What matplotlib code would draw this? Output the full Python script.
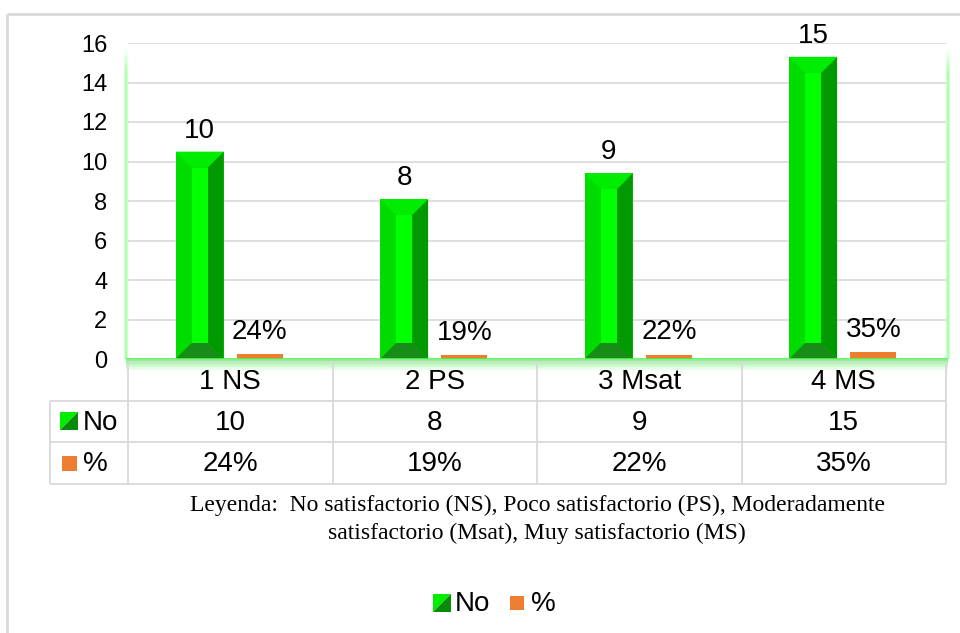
import matplotlib
matplotlib.use('Agg')
import matplotlib.pyplot as plt
import numpy as np
from matplotlib.patches import Polygon, Rectangle
from matplotlib.lines import Line2D

# ---------------- data ----------------
categories = ['1 NS', '2 PS', '3 Msat', '4 MS']
counts = [10, 8, 9, 15]            # "No" series (labels / table)
bar_heights = [10.5, 8.1, 9.4, 15.3]  # drawn column heights
pct = [24, 19, 22, 35]             # "%" series
yticks = [0, 2, 4, 6, 8, 10, 12, 14, 16]
row_labels = ['No', '%']
note_lines = ['Leyenda:  No satisfactorio (NS), Poco satisfactorio (PS), Moderadamente',
              'satisfactorio (Msat), Muy satisfactorio (MS)']

# ---------------- styling ----------------
W, H = 960, 633
SANS = ['Liberation Sans', 'DejaVu Sans']
SERIF = ['Liberation Serif', 'DejaVu Serif']
GRID = '#d9d9d9'
G_LEFT, G_MID, G_RIGHT, G_TOP, G_BOT = '#00dc00', '#00ff00', '#009a00', '#00ec00', '#178c17'
ORANGE = '#ed7d31'

fig = plt.figure(figsize=(9.6, 6.33), dpi=100)


def fx(p):
    return p / W


def fy(p):
    return 1 - p / H


def fline(x0, y0, x1, y1, color=GRID, lw=1.3, z=1):
    fig.add_artist(Line2D([fx(x0), fx(x1)], [fy(y0), fy(y1)], transform=fig.transFigure,
                          color=color, lw=lw, zorder=z, solid_capstyle='butt'))


# outer chart border
fline(7, 13.5, 960, 13.5, lw=2)
fline(7, 13.5, 7, 633, lw=2)

L, R, T, B = 128, 946, 43, 359
ax = fig.add_axes([fx(L), fy(B), fx(R) - fx(L), (B - T) / H])
n = len(categories)
ax.set_xlim(-0.5, n - 0.5)
ax.set_ylim(0, 16)
ax.set_yticks(yticks)
ax.set_yticklabels([str(v) for v in yticks], fontsize=17, fontfamily=SANS)
ax.tick_params(axis='y', length=0, pad=15)
ax.set_xticks([])
for s in ax.spines.values():
    s.set_visible(False)
ax.patch.set_alpha(0)
for v in yticks[1:]:
    ax.axhline(v, color=GRID, lw=1.2, zorder=0)

x = np.arange(n)
gw, gofs = 0.235, -0.15
ow, oofs = 0.225, 0.145
px_x = (R - L) / n
px_y = (B - T) / 16.0

# green bevelled columns
ax.bar(x + gofs, bar_heights, gw, color=G_LEFT, zorder=2, linewidth=0)
for xi, h in zip(x, bar_heights):
    x0 = xi + gofs - gw / 2
    x1 = x0 + gw
    d = gw / 3
    dv = d * px_x / px_y
    ax.add_patch(Polygon([(x1, 0), (x1, h), (x1 - d, h - dv), (x1 - d, dv)], closed=True,
                         color=G_RIGHT, lw=0, zorder=3))
    ax.add_patch(Polygon([(x0, h), (x1, h), (x1 - d, h - dv), (x0 + d, h - dv)], closed=True,
                         color=G_TOP, lw=0, zorder=3))
    ax.add_patch(Polygon([(x0, 0), (x1, 0), (x1 - d, dv), (x0 + d, dv)], closed=True,
                         color=G_BOT, lw=0, zorder=3))
    ax.add_patch(Rectangle((x0 + d, dv), gw - 2 * d, h - 2 * dv, color=G_MID, lw=0, zorder=3))

# orange percentage bars
pct_h = [p / 100 for p in pct]
ax.bar(x + oofs, pct_h, ow, color=ORANGE, zorder=2, linewidth=0)

for xi, h, c in zip(x, bar_heights, counts):
    ax.annotate(str(c), (xi + gofs, h), xytext=(0, 10), textcoords='offset points',
                ha='center', va='baseline', fontsize=20, fontfamily=SANS, zorder=5)
for xi, h, p in zip(x, pct_h, pct):
    ax.annotate(f'{p}%', (xi + oofs, h), xytext=(0, 11), textcoords='offset points',
                ha='center', va='baseline', fontsize=20, fontfamily=SANS, zorder=5)

# ---------------- green glows ----------------
gax = fig.add_axes([fx(L - 2), fy(B + 13), fx(R + 2) - fx(L - 2), 14 / H], zorder=0.5)
grad = np.zeros((40, 2, 4))
grad[..., 0] = 0.33
grad[..., 1] = 0.95
grad[..., 2] = 0.33
grad[..., 3] = (np.linspace(1, 0, 40) ** 1.3)[:, None] * 0.95
gax.imshow(grad, aspect='auto', extent=[0, 1, 0, 1], origin='upper', interpolation='bilinear')
gax.axis('off')

for cx in (L - 2, R + 2):
    sax = fig.add_axes([fx(cx - 4), fy(B), 8 / W, (B - 46) / H], zorder=0.4)
    sg = np.zeros((60, 9, 4))
    sg[..., 0] = 0.5
    sg[..., 1] = 1.0
    sg[..., 2] = 0.5
    prof = np.exp(-((np.arange(9) - 4) / 1.8) ** 2)
    vert = np.clip(np.linspace(0, 1, 60) / 0.08, 0, 1)
    sg[..., 3] = 0.75 * vert[:, None] * prof[None, :]
    sax.imshow(sg, aspect='auto', extent=[0, 1, 0, 1], origin='upper', interpolation='bilinear')
    sax.axis('off')

# ---------------- data table ----------------
rows_y = [361.5, 401, 442, 484]
col_x = [L + i * px_x for i in range(n + 1)]
fline(L, rows_y[0], R, rows_y[0])
for yy in rows_y[1:]:
    fline(50, yy, R, yy)
for xx in col_x:
    fline(xx, rows_y[0], xx, rows_y[-1])
fline(50, rows_y[1], 50, rows_y[-1])

hdr_y = (rows_y[0] + rows_y[1]) / 2 + 1
r1_y = (rows_y[1] + rows_y[2]) / 2 + 1
r2_y = (rows_y[2] + rows_y[3]) / 2 + 1
for i, cat in enumerate(categories):
    cx = (col_x[i] + col_x[i + 1]) / 2
    fig.text(fx(cx), fy(hdr_y), cat, ha='center', va='center', fontsize=20, fontfamily=SANS)
    fig.text(fx(cx), fy(r1_y), str(counts[i]), ha='center', va='center', fontsize=20, fontfamily=SANS)
    fig.text(fx(cx), fy(r2_y), f'{pct[i]}%', ha='center', va='center', fontsize=20, fontfamily=SANS)


def green_key(x0, y0, s):
    fig.add_artist(Polygon([(fx(x0), fy(y0)), (fx(x0 + s), fy(y0)), (fx(x0), fy(y0 + s))],
                           closed=True, transform=fig.transFigure, color='#00ee00', lw=0))
    fig.add_artist(Polygon([(fx(x0 + s), fy(y0)), (fx(x0 + s), fy(y0 + s)), (fx(x0), fy(y0 + s))],
                           closed=True, transform=fig.transFigure, color='#0a8a0a', lw=0))


def orange_key(x0, y0, s):
    fig.add_artist(Rectangle((fx(x0), fy(y0 + s)), s / W, s / H, transform=fig.transFigure,
                             color=ORANGE, lw=0))


green_key(60, 412, 18)
orange_key(62, 456, 15)
fig.text(fx(83), fy(r1_y), row_labels[0], ha='left', va='center', fontsize=20, fontfamily=SANS)
fig.text(fx(83), fy(r2_y), row_labels[1], ha='left', va='center', fontsize=20, fontfamily=SANS)

# ---------------- note ----------------
fig.text(fx(537), fy(505), note_lines[0], ha='center', va='center', fontsize=17, fontfamily=SERIF)
fig.text(fx(537), fy(533), note_lines[1], ha='center', va='center', fontsize=17, fontfamily=SERIF)

# ---------------- legend ----------------
green_key(433, 594, 18)
fig.text(fx(455), fy(604), row_labels[0], ha='left', va='center', fontsize=20, fontfamily=SANS)
orange_key(510, 596, 14)
fig.text(fx(531), fy(604), row_labels[1], ha='left', va='center', fontsize=20, fontfamily=SANS)

fig.savefig('out.png', dpi=100)
